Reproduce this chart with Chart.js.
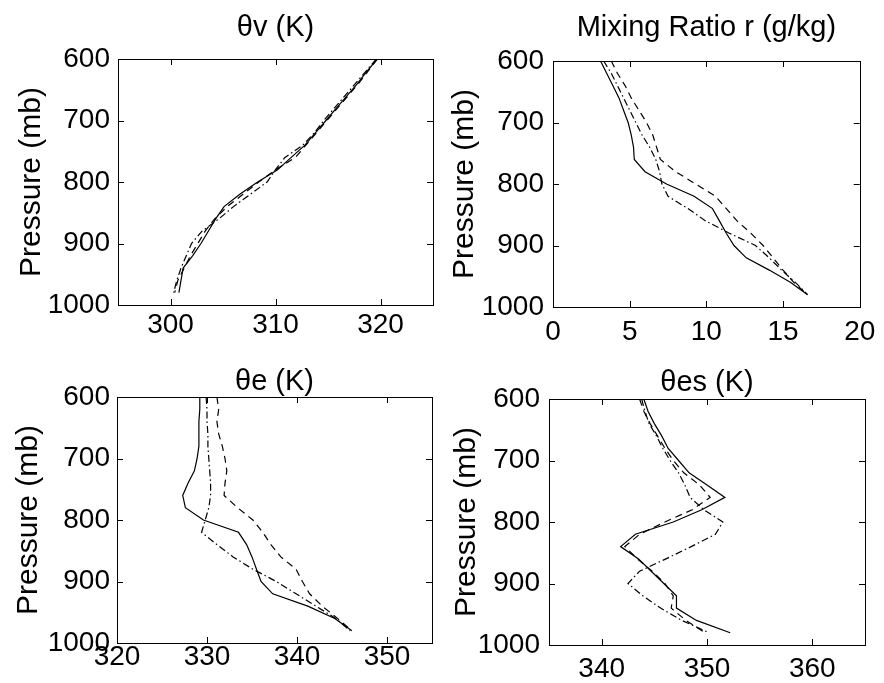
<!DOCTYPE html>
<html>
<head>
<meta charset="utf-8">
<script src="https://cdn.jsdelivr.net/npm/chart.js@4.4.1/dist/chart.umd.min.js"></script>
<style>
  html, body { margin: 0; background: #fff; }
  #wrap { position: relative; width: 884px; height: 683px; overflow: hidden; }
  canvas { position: absolute; }
</style>
</head>
<body>
<div id="wrap">
  <canvas id="c1" width="442" height="352" style="left:0;top:0"></canvas>
  <canvas id="c2" width="442" height="352" style="left:442px;top:0"></canvas>
  <canvas id="c3" width="442" height="342" style="left:0;top:341px"></canvas>
  <canvas id="c4" width="442" height="342" style="left:442px;top:341px"></canvas>
</div>
<script>
// Three soundings per panel: solid, dashed, dash-dot. Pressure levels shared.
const pressure = [600, 620, 640, 660, 680, 700, 720, 740, 760, 780, 800, 820, 840, 860, 880, 900, 920, 940, 960, 980];
const pressureTicks = [600, 700, 800, 900, 1000];

const thetaVSolid   = [319.7, 318.7, 317.8, 316.8, 315.8, 314.8, 313.8, 312.8, 311.5, 310.2, 308.3, 306.6, 305.1, 304.3, 303.6, 302.9, 302.1, 301.2, 301.0, 300.8];
const thetaVDashed  = [319.7, 318.8, 317.9, 316.9, 315.9, 314.9, 313.9, 312.9, 311.9, 310.0, 308.4, 306.9, 305.4, 304.2, 303.3, 302.6, 301.9, 301.3, 300.7, 300.4];
const thetaVDashDot = [319.6, 318.6, 317.6, 316.6, 315.6, 314.6, 313.7, 312.6, 310.9, 310.0, 309.2, 307.6, 306.0, 304.6, 303.0, 302.0, 301.5, 301.0, 300.6, 300.3];
const thetaVTicks = [300, 310, 320];

const mixSolid   = [3.1, 3.5, 3.9, 4.3, 4.6, 4.9, 5.1, 5.25, 5.3, 6.0, 7.4, 9.2, 10.4, 10.85, 11.3, 11.8, 12.6, 14.1, 15.5, 16.6];
const mixDashed  = [3.8, 4.2, 4.7, 5.1, 5.6, 6.1, 6.5, 6.75, 7.0, 8.0, 9.3, 10.6, 11.3, 12.0, 12.9, 13.7, 14.35, 15.0, 15.7, 16.6];
const mixDashDot = [3.3, 3.8, 4.2, 4.6, 5.0, 5.4, 5.8, 6.3, 6.7, 6.95, 7.1, 7.5, 8.8, 9.95, 11.5, 13.2, 14.1, 14.9, 15.8, 16.6];
const mixTicks = [0, 5, 10, 15, 20];

const thetaESolid   = [329.2, 329.2, 329.1, 329.1, 329.1, 328.9, 328.6, 327.9, 327.3, 327.6, 329.6, 333.5, 334.4, 335.0, 335.5, 336.0, 337.3, 341.2, 344.2, 346.1];
const thetaEDashed  = [331.1, 331.3, 331.1, 331.3, 331.7, 332.0, 332.2, 332.0, 331.9, 333.4, 335.1, 336.2, 337.1, 338.2, 339.9, 340.6, 341.4, 342.8, 344.5, 346.1];
const thetaEDashDot = [329.9, 330.0, 330.0, 330.1, 330.1, 330.2, 330.3, 330.4, 330.4, 330.2, 329.8, 329.4, 331.1, 332.9, 335.1, 337.7, 339.9, 342.1, 344.3, 345.9];
const thetaETicks = [320, 330, 340, 350];

const thetaESSolid   = [344.0, 344.4, 345.0, 345.7, 346.3, 347.3, 348.3, 350.0, 351.7, 349.5, 346.8, 343.2, 341.8, 343.5, 344.7, 345.9, 347.1, 347.1, 349.0, 352.2];
const thetaESDashed  = [343.6, 344.0, 344.6, 345.3, 346.0, 346.8, 347.8, 349.3, 350.3, 348.6, 346.0, 343.6, 342.2, 343.4, 344.8, 346.0, 346.8, 346.6, 348.0, 349.8];
const thetaESDashDot = [343.8, 344.1, 344.5, 345.2, 345.8, 346.5, 347.3, 347.9, 348.4, 349.7, 351.5, 350.8, 348.5, 346.1, 343.6, 342.5, 343.9, 345.6, 347.6, 350.2];
const thetaESTicks = [340, 350, 360];

const FONT = "'Liberation Sans', Arial, Helvetica, sans-serif";
const TICK_LEN = 6;

// MATLAB-style box with inward ticks on all four sides
const boxTicks = {
  id: 'boxTicks',
  afterDraw(chart) {
    const { ctx, chartArea: a, scales: { x, y } } = chart;
    ctx.save();
    ctx.strokeStyle = '#000';
    ctx.lineWidth = 1;
    ctx.strokeRect(Math.round(a.left) + .5, Math.round(a.top) + .5, Math.round(a.right - a.left), Math.round(a.bottom - a.top));
    ctx.beginPath();
    x.ticks.forEach(t => {
      const px = Math.round(x.getPixelForValue(t.value)) + .5;
      ctx.moveTo(px, a.bottom); ctx.lineTo(px, a.bottom - TICK_LEN);
      ctx.moveTo(px, a.top); ctx.lineTo(px, a.top + TICK_LEN);
    });
    y.ticks.forEach(t => {
      const py = Math.round(y.getPixelForValue(t.value)) + .5;
      ctx.moveTo(a.left, py); ctx.lineTo(a.left + TICK_LEN, py);
      ctx.moveTo(a.right, py); ctx.lineTo(a.right - TICK_LEN, py);
    });
    ctx.stroke();
    ctx.restore();
  }
};

function series(values, dash) {
  return {
    data: pressure.map((p, i) => ({ x: values[i], y: p })),
    borderColor: '#000',
    borderWidth: 1.2,
    borderDash: dash,
    pointRadius: 0,
    showLine: true,
    tension: 0,
  };
}

function makePanel(id, p) {
  new Chart(document.getElementById(id), {
    type: 'scatter',
    data: {
      datasets: [
        series(p.solid, []),
        series(p.dashed, [7, 5]),
        series(p.dashDot, [7, 3, 1.5, 3]),
      ],
    },
    options: {
      responsive: false,
      animation: false,
      devicePixelRatio: 1,
      layout: { padding: { left: 0, right: p.padRight, top: 0, bottom: 0 } },
      plugins: {
        legend: { display: false },
        tooltip: { enabled: false },
        title: {
          display: true, text: p.title, color: '#000', fullSize: false,
          font: { family: FONT, size: 29, weight: 'normal' },
          padding: { top: p.titleTop, bottom: p.titleBottom },
        },
      },
      scales: {
        x: {
          type: 'linear', min: p.min, max: p.max,
          afterBuildTicks: s => { s.ticks = p.ticks.map(v => ({ value: v })); },
          afterFit: s => { s.height = p.xHeight; },
          grid: { display: false, drawTicks: false },
          border: { display: false },
          ticks: { color: '#000', padding: p.xPad, font: { family: FONT, size: 28 }, callback: v => String(v) },
        },
        y: {
          type: 'linear', min: 600, max: 1000, reverse: true,
          afterBuildTicks: s => { s.ticks = pressureTicks.map(v => ({ value: v })); },
          afterFit: s => { s.width = p.yWidth; },
          grid: { display: false, drawTicks: false },
          border: { display: false },
          ticks: { color: '#000', padding: p.yPad, font: { family: FONT, size: 28 }, callback: v => String(v) },
          title: {
            display: true, text: 'Pressure (mb)', color: '#000',
            font: { family: FONT, size: 30 }, padding: { top: p.yTitlePad, bottom: 0 },
          },
        },
      },
    },
    plugins: [boxTicks],
  });
}

makePanel('c1', {
  title: 'θv (K)', solid: thetaVSolid, dashed: thetaVDashed, dashDot: thetaVDashDot,
  min: 295, max: 325, ticks: thetaVTicks,
  padRight: 9, titleTop: 10.6, titleBottom: 13.6, xHeight: 47, xPad: 3.7, yWidth: 118, yPad: 8, yTitlePad: 14,
});
makePanel('c2', {
  title: 'Mixing Ratio r (g/kg)', solid: mixSolid, dashed: mixDashed, dashDot: mixDashDot,
  min: 0, max: 20, ticks: mixTicks,
  padRight: 18, titleTop: 10.6, titleBottom: 15.6, xHeight: 45, xPad: 8.7, yWidth: 111, yPad: 9, yTitlePad: 5,
});
makePanel('c3', {
  title: 'θe (K)', solid: thetaESolid, dashed: thetaEDashed, dashDot: thetaEDashDot,
  min: 320, max: 355, ticks: thetaETicks,
  padRight: 10, titleTop: 24, titleBottom: -2.8, xHeight: 40, xPad: -2.8, yWidth: 117, yPad: 7, yTitlePad: 11,
});
makePanel('c4', {
  title: 'θes (K)', solid: thetaESSolid, dashed: thetaESDashed, dashDot: thetaESDashDot,
  min: 335, max: 365, ticks: thetaESTicks,
  padRight: 19, titleTop: 24.6, titleBottom: -1.4, xHeight: 38, xPad: 7.2, yWidth: 107, yPad: 9, yTitlePad: 7,
});
</script>
</body>
</html>
